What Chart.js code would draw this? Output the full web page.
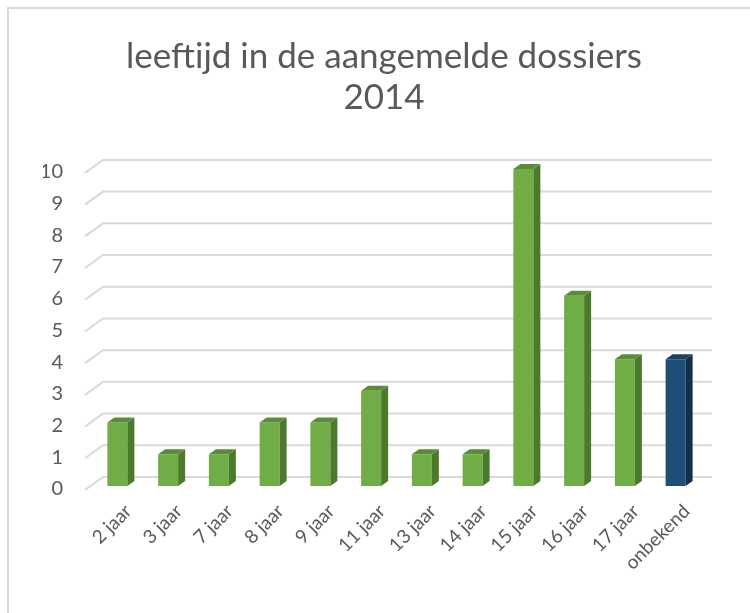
<!DOCTYPE html>
<html>
<head>
<meta charset="utf-8">
<script src="https://cdn.jsdelivr.net/npm/chart.js@4.4.1/dist/chart.umd.min.js"></script>
<style>
    body { margin: 0; background: #fff; }
    #wrap { position: relative; width: 750px; height: 613px; overflow: hidden; }
    #frame { position: absolute; left: 7px; top: 7px; right: -5px; bottom: -5px; border-top: 2px solid #d9d9d9; border-left: 2px solid #d9d9d9; }
    #chart { position: absolute; left: 0; top: 0; }
</style>
</head>
<body>
<div id="wrap">
    <div id="frame"></div>
    <canvas id="chart" width="750" height="613"></canvas>
</div>
<script>
const titleLines = ['leeftijd in de aangemelde dossiers', '2014'];
const categories = ['2 jaar', '3 jaar', '7 jaar', '8 jaar', '9 jaar', '11 jaar', '13 jaar', '14 jaar', '15 jaar', '16 jaar', '17 jaar', 'onbekend'];
const counts = [2, 1, 1, 2, 2, 3, 1, 1, 10, 6, 4, 4];
const yTicks = [0, 1, 2, 3, 4, 5, 6, 7, 8, 9, 10];

const textColor = '#595959';
const gridColor = '#d9d9d9';
const green = { front: '#70ad47', side: '#4b7a2d', top: '#5a8d38' };
const blue = { front: '#1f4e79', side: '#142f4a', top: '#1a4164' };

// pseudo 3d: back wall and left wall offsets relative to the bar plane
const wall = { backDx: 11, backDy: -9, frontDx: -7, frontDy: 4 };
const barDepth = { dx: 7, dy: -5 };

function palette(i) {
    return categories[i] === 'onbekend' ? blue : green;
}

const wallsPlugin = {
    id: 'walls',
    beforeDatasetsDraw(chart) {
        const ctx = chart.ctx;
        const area = chart.chartArea;
        const y = chart.scales.y;
        ctx.save();
        ctx.strokeStyle = gridColor;
        ctx.lineWidth = 2;
        yTicks.forEach(v => {
            const py = y.getPixelForValue(v);
            ctx.beginPath();
            ctx.moveTo(area.left + wall.frontDx, py + wall.frontDy);
            ctx.lineTo(area.left + wall.backDx, py + wall.backDy);
            ctx.lineTo(area.right + wall.backDx, py + wall.backDy);
            ctx.stroke();
        });
        ctx.restore();
    }
};

const barSidesPlugin = {
    id: 'barSides',
    afterDatasetsDraw(chart) {
        const ctx = chart.ctx;
        const meta = chart.getDatasetMeta(0);
        ctx.save();
        meta.data.forEach((bar, i) => {
            const p = bar.getProps(['x', 'y', 'base', 'width'], true);
            const l = p.x - p.width / 2;
            const r = p.x + p.width / 2;
            const c = palette(i);
            // side face
            ctx.fillStyle = c.side;
            ctx.beginPath();
            ctx.moveTo(r, p.y);
            ctx.lineTo(r + barDepth.dx, p.y + barDepth.dy);
            ctx.lineTo(r + barDepth.dx, p.base + barDepth.dy);
            ctx.lineTo(r, p.base);
            ctx.closePath();
            ctx.fill();
            // top face
            ctx.fillStyle = c.top;
            ctx.beginPath();
            ctx.moveTo(l, p.y);
            ctx.lineTo(l + barDepth.dx, p.y + barDepth.dy);
            ctx.lineTo(r + barDepth.dx, p.y + barDepth.dy);
            ctx.lineTo(r, p.y);
            ctx.closePath();
            ctx.fill();
        });
        ctx.restore();
    }
};

const ctx = document.getElementById('chart').getContext('2d');
const chart = new Chart(ctx, {
    type: 'bar',
    data: {
        labels: categories,
        datasets: [{
            data: counts,
            backgroundColor: c => palette(c.dataIndex).front,
            borderWidth: 0,
            barPercentage: 0.394,
            categoryPercentage: 1
        }]
    },
    options: {
        responsive: false,
        animation: false,
        layout: { padding: { left: 43, right: 25, top: 0, bottom: 0 } },
        plugins: {
            legend: { display: false },
            tooltip: { enabled: false },
            title: {
                display: true,
                text: titleLines,
                color: textColor,
                font: { family: 'Lato', size: 35, weight: 'normal', lineHeight: 1.17 },
                padding: { top: 36, bottom: 51 }
            }
        },
        scales: {
            x: {
                grid: { display: false, drawTicks: false },
                border: { display: false },
                ticks: {
                    color: textColor,
                    font: { family: 'Lato', size: 19 },
                    maxRotation: 45,
                    minRotation: 45,
                    autoSkip: false,
                    padding: 14,
                    labelOffset: 11
                },
                afterFit(scale) { scale.height = 127; }
            },
            y: {
                min: 0,
                max: 10,
                grid: { display: false, drawTicks: false },
                border: { display: false },
                ticks: {
                    stepSize: 1,
                    color: textColor,
                    font: { family: 'Lato', size: 20 },
                    padding: 29,
                    labelOffset: 3
                },
                afterFit(scale) { scale.width = 49; }
            },
            y2: {
                position: 'right',
                display: true,
                min: 0,
                max: 10,
                grid: { display: false, drawTicks: false },
                border: { display: false },
                ticks: { display: false },
                afterFit(scale) { scale.width = 24; }
            }
        }
    },
    plugins: [wallsPlugin, barSidesPlugin]
});
</script>
</body>
</html>
